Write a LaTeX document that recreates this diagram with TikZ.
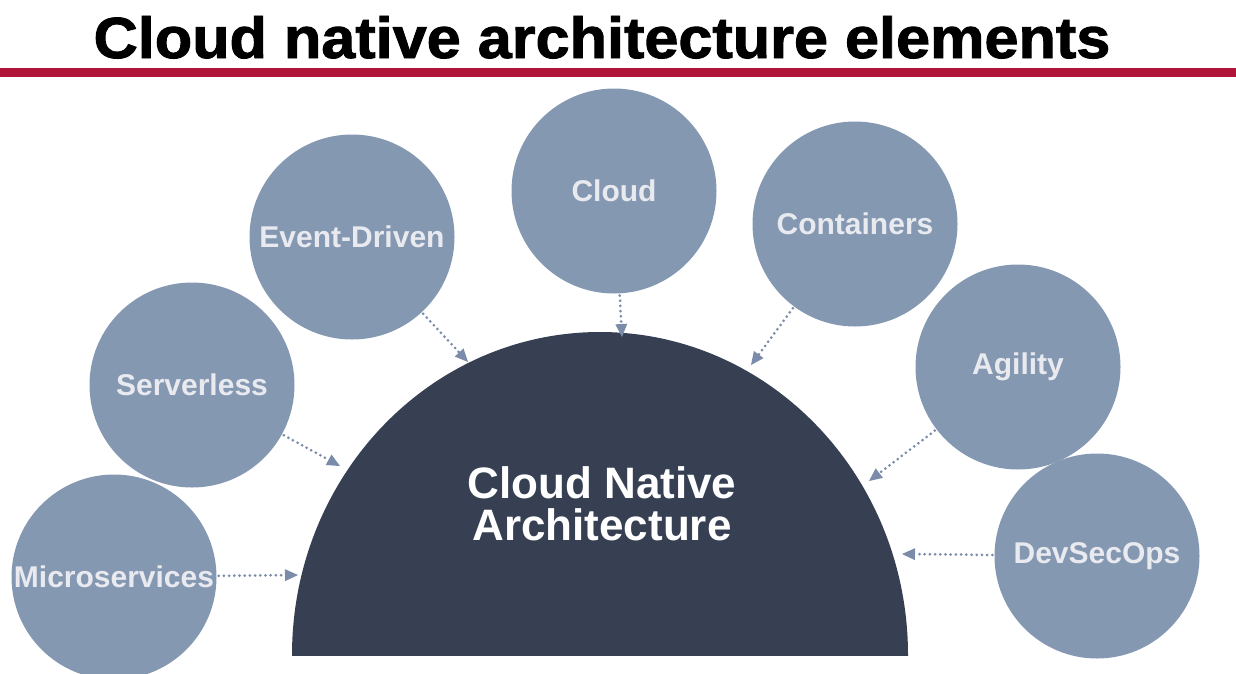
\documentclass[tikz,border=0pt]{standalone}
\usepackage{fontspec}
\setmainfont{Liberation Sans}
\newfontfamily\titlefont[FakeBold=1.6]{Liberation Sans Bold}
\usetikzlibrary{arrows.meta}
\definecolor{bubble}{HTML}{8598B2}
\definecolor{navy}{HTML}{364052}
\definecolor{bubbletext}{HTML}{E8EAEF}
\definecolor{conncol}{HTML}{7A8CAA}
\definecolor{rule}{HTML}{B01439}
\begin{document}
\begin{tikzpicture}[x=1pt,y=-1pt,
  bubblenode/.style={circle,fill=bubble,inner sep=0pt,minimum size=205pt,
    text=bubbletext,font=\fontsize{30}{36}\selectfont\bfseries},
  conn/.style={draw=conncol,line width=3pt,dash pattern=on 0pt off 5.2pt,
    line cap=round,shorten <=2pt,
    -{Triangle[length=13pt,width=12pt,fill=conncol,line width=0pt]}}
]
\useasboundingbox (0,0) rectangle (1236,673);
% title and rule
\node[anchor=base,inner sep=0pt,font=\fontsize{58}{60}\selectfont\titlefont] (title) at (602,58)
  {\scalebox{1.055}[1]{Cloud native architecture elements}};
\fill[rule] (0,68) rectangle (1236,77);
% half disk
\begin{scope}
  \clip (0,0) rectangle (1236,655);
  \fill[navy] (600,655) ellipse [x radius=308, y radius=323];
\end{scope}
\node[align=center,text=white,inner sep=0pt,
  font=\fontsize{44}{42}\selectfont\bfseries] (core) at (602,504)
  {Cloud Native\\Architecture};
% bubbles
\node[bubblenode] (ms) at (114,577) {Microservices};
\node[bubblenode] (sl) at (192,385) {Serverless};
\node[bubblenode] (ed) at (352,237) {Event-Driven};
\node[bubblenode] (cl) at (614,191) {Cloud};
\node[bubblenode] (ct) at (855,224) {Containers};
\node[bubblenode] (ag) at (1018,367) {Agility};
\node[bubblenode] (dv) at (1097,556) {DevSecOps};
% arrow tips
\coordinate (tms) at (298,575);
\coordinate (tsl) at (340,466);
\coordinate (ted) at (468,362);
\coordinate (tcl) at (622,337);
\coordinate (tct) at (751,365);
\coordinate (tag) at (869,481);
\coordinate (tdv) at (902,554);
\draw[conn] (ms) -- (tms);
\draw[conn] (sl) -- (tsl);
\draw[conn] (ed) -- (ted);
\draw[conn] (cl) -- (tcl);
\draw[conn] (ct) -- (tct);
\draw[conn] (ag) -- (tag);
\draw[conn] (dv) -- (tdv);
\end{tikzpicture}
\end{document}
